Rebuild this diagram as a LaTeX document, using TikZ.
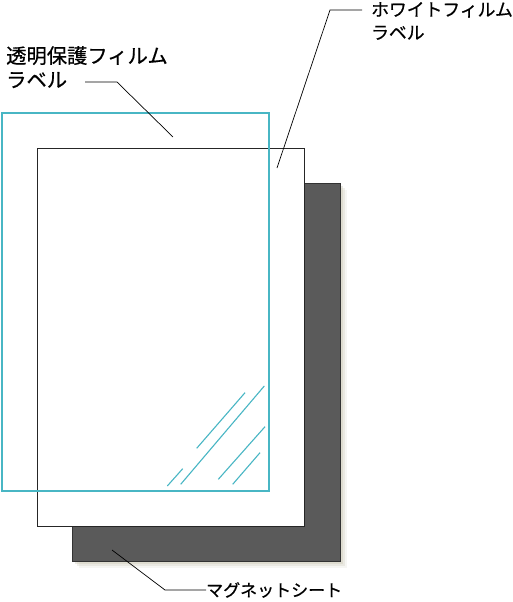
\documentclass[tikz,border=0pt]{standalone}
\usepackage{fontspec}
\newfontfamily\jp[FakeBold=0.6]{Noto Sans CJK JP}
\usetikzlibrary{positioning}
\definecolor{filmcyan}{RGB}{72,182,196}
\definecolor{magnetgray}{RGB}{90,90,90}
\definecolor{shadowtan}{RGB}{200,196,176}

\begin{document}
\begin{tikzpicture}[x=1pt,y=-1pt]
		  \tikzset{
			lbl/.style={font=\jp\fontsize{17}{23}\selectfont,align=left,inner sep=0pt,anchor=north west},
			leader/.style={black,line width=0.7pt},
			glass/.style={filmcyan,line width=1.1pt},
		  }
		  \useasboundingbox[fill=white] (0,0) rectangle (512,602);
		  %SHADOW
		  \foreach \s/\o in {7/0.15,5/0.25,3/0.35}{
			\fill[shadowtan,opacity=\o] (72+\s,183+\s) rectangle (340+\s,561+\s);
		  }
		  %MAGNET SHEET
		  \draw[fill=magnetgray,draw=black!80,line width=1pt] (72,183) rectangle (340,561);
		  %WHITE FILM
		  \draw[fill=white,draw=black!85,line width=1pt] (37,148) rectangle (304,526);
		  %PROTECTIVE FILM
		  \draw[filmcyan,line width=1.1pt] (2,113) rectangle (269,491);
		  %GLASS LINES
		  \draw[glass] (196.7,448.3) -- (245,392.7);
		  \draw[glass] (180.7,484.3) -- (264.3,386);
		  \draw[glass] (167.3,486) -- (182.7,468.7);
		  \draw[glass] (218.3,479.3) -- (265,426.7);
		  \draw[glass] (232.7,484.3) -- (260,452.7);
		  %LABELS
		  \node[lbl,font=\jp\fontsize{20.3}{24}\selectfont] (protect) at (6,46) {透明保護フィルム\\ラベル};
		  \node[lbl,font=\jp\fontsize{17.8}{23}\selectfont] (white) at (371,2) {ホワイトフィルム\\ラベル};
		  \node[lbl,anchor=west] (magnet) at (206,590) {マグネットシート};
		  %LEADERS
		  \coordinate (p1) at (85,82);
		  \coordinate (p2) at (173,137);
		  \draw[leader] (p1) -- (117,82) -- (p2);
		  \coordinate (w1) at (362,10);
		  \coordinate (w2) at (277,168);
		  \draw[leader] (w1) -- (330,10) -- (w2);
		  \coordinate (m1) at (112,550);
		  \draw[leader] (m1) -- (165,590) -- (magnet.west);
		  \end{tikzpicture}
\end{document}
